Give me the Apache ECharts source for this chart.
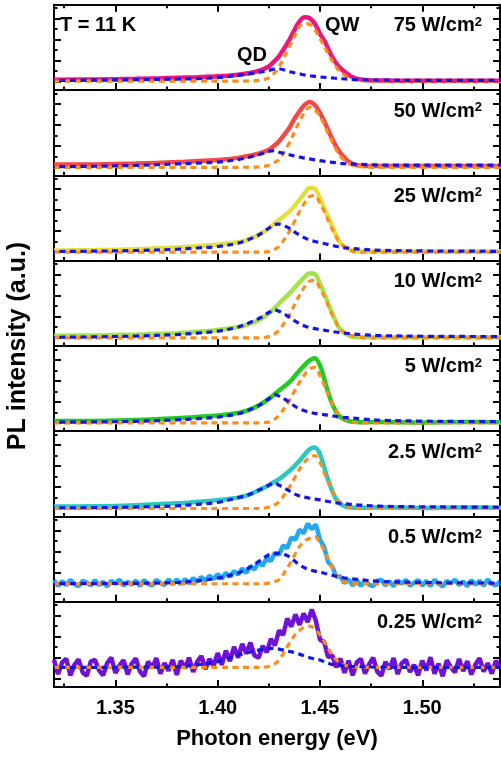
<!DOCTYPE html>
<html>
<head>
<meta charset="utf-8">
<title>PL spectra vs excitation power</title>
<script src="https://cdn.jsdelivr.net/npm/echarts@6.0.0/dist/echarts.min.js"></script>
<style>
html, body { margin: 0; padding: 0; background: #fff; }
#chart { width: 501px; height: 760px; }
</style>
</head>
<body>
<div id="chart"></div>
<script>
// photon energy (eV) for the fitted curves and the smooth spectra
var energy = [1.32, 1.34, 1.36, 1.38, 1.39, 1.40, 1.41, 1.415, 1.42, 1.425,
    1.4275, 1.43, 1.435, 1.4375, 1.44, 1.4425, 1.445, 1.4475, 1.45, 1.4525,
    1.455, 1.4575, 1.46, 1.465, 1.47, 1.48, 1.50, 1.52, 1.54];

// finer energy grid for the two noisy low-power spectra
var energyFine = [
    1.320, 1.322, 1.324, 1.326, 1.328, 1.330, 1.332, 1.334, 1.336, 1.338,
    1.340, 1.342, 1.344, 1.346, 1.348, 1.350, 1.352, 1.354, 1.356, 1.358,
    1.360, 1.362, 1.364, 1.366, 1.368, 1.370, 1.372, 1.374, 1.376, 1.378,
    1.380, 1.382, 1.384, 1.386, 1.388, 1.390, 1.392, 1.394, 1.396, 1.398,
    1.400, 1.402, 1.404, 1.406, 1.408, 1.410, 1.412, 1.414, 1.416, 1.418,
    1.420, 1.422, 1.424, 1.426, 1.428, 1.430, 1.432, 1.434, 1.436, 1.438,
    1.440, 1.442, 1.444, 1.446, 1.448, 1.450, 1.452, 1.454, 1.456, 1.458,
    1.460, 1.462, 1.464, 1.466, 1.468, 1.470, 1.472, 1.474, 1.476, 1.478,
    1.480, 1.482, 1.484, 1.486, 1.488, 1.490, 1.492, 1.494, 1.496, 1.498,
    1.500, 1.502, 1.504, 1.506, 1.508, 1.510, 1.512, 1.514, 1.516, 1.518,
    1.520, 1.522, 1.524, 1.526, 1.528, 1.530, 1.532, 1.534, 1.536, 1.538];

var powers = ['75', '50', '25', '10', '5', '2.5', '0.5', '0.25'];

var xMajor = [1.35, 1.40, 1.45, 1.50];
var xMinor = [1.325, 1.375, 1.425, 1.475, 1.525];
var yMajor = [0, 1, 2, 3];
var yMinor = [0.5, 1.5, 2.5, 3.5];

// measured PL, QW fit and QD fit per power (W/cm2)
var pl75 = [.09, .10, .13, .18, .21, .25, .33, .40, .51, .72, .95, 1.20, 1.98, 2.45, 2.87, 3.06, 3.02, 2.75, 2.28, 1.88, 1.36, .93, .64, .26, .10, .05, .04, .04, .04];
var qw75 = [.02, .02, .02, .02, .02, .02, .02, .03, .06, .17, .38, .70, 1.65, 2.15, 2.62, 2.76, 2.72, 2.47, 2.05, 1.60, 1.15, .75, .45, .14, .05, .03, .02, .02, .02];
var qd75 = [.05, .07, .09, .12, .14, .19, .30, .36, .44, .53, .59, .60, .48, .42, .37, .32, .28, .25, .22, .20, .18, .16, .14, .11, .09, .07, .06, .06, .06];

var pl50 = [.11, .12, .16, .23, .28, .33, .43, .52, .63, .82, 1.00, 1.22, 1.85, 2.28, 2.65, 2.95, 3.09, 2.95, 2.57, 2.08, 1.54, 1.05, .66, .19, .06, .04, .04, .04, .04];
var qw50 = [-.02, -.02, -.02, -.02, -.02, -.02, -.02, -.01, .00, .08, .20, .35, 1.14, 1.65, 2.17, 2.60, 2.84, 2.72, 2.41, 1.92, 1.38, .90, .50, .11, .01, -.02, -.02, -.02, -.02];
var qd50 = [.01, .03, .07, .14, .18, .23, .35, .45, .58, .74, .77, .70, .58, .52, .47, .42, .38, .34, .30, .26, .23, .20, .17, .14, .12, .09, .08, .08, .08];

var pl25 = [.08, .10, .14, .22, .28, .35, .47, .60, .82, 1.14, 1.34, 1.54, 1.93, 2.20, 2.50, 2.82, 3.06, 3.02, 2.57, 2.00, 1.46, .90, .43, .11, .03, .03, .03, .03, .03];
var qw25 = [.00, .00, .00, .00, .00, .00, .00, .00, .00, .03, .12, .27, .98, 1.45, 1.93, 2.35, 2.65, 2.70, 2.33, 1.85, 1.30, .80, .43, .08, .00, .00, .00, .00, .00];
var qd25 = [.03, .05, .08, .14, .20, .27, .43, .60, .82, 1.14, 1.32, 1.34, 1.14, .97, .82, .68, .58, .51, .46, .40, .35, .29, .23, .18, .14, .09, .06, .05, .04];

var pl10 = [.08, .10, .14, .20, .27, .36, .50, .63, .82, 1.14, 1.37, 1.62, 2.09, 2.36, 2.63, 2.88, 3.06, 3.02, 2.57, 2.00, 1.38, .82, .38, .06, .01, .01, .01, .01, .01];
var qw10 = [-.02, -.02, -.02, -.02, -.02, -.02, -.02, -.02, -.02, .04, .15, .35, 1.06, 1.55, 2.01, 2.42, 2.68, 2.72, 2.33, 1.88, 1.30, .80, .38, .11, .00, -.02, -.02, -.02, -.02];
var qd10 = [.01, .03, .07, .14, .21, .30, .50, .68, .90, 1.19, 1.32, 1.25, .98, .80, .66, .55, .47, .42, .38, .34, .30, .26, .23, .18, .14, .09, .06, .05, .04];

var pl5 = [.08, .09, .13, .22, .28, .35, .47, .60, .82, 1.14, 1.34, 1.54, 1.93, 2.20, 2.49, 2.75, 2.97, 3.07, 2.73, 1.95, 1.14, .60, .27, .06, .03, .04, .02, .04, .03];
var qw5 = [.00, .00, .00, .00, .00, .00, .00, .00, .00, .03, .15, .35, 1.06, 1.50, 1.93, 2.30, 2.57, 2.64, 2.25, 1.70, 1.14, .62, .33, .06, .00, .00, .00, .00, .00];
var qd5 = [.03, .04, .07, .14, .20, .27, .43, .60, .82, 1.14, 1.35, 1.27, .98, .80, .66, .57, .50, .45, .41, .38, .35, .31, .27, .23, .19, .12, .08, .06, .05];

var pl2p5 = [.08, .09, .14, .23, .30, .38, .50, .63, .85, 1.09, 1.24, 1.38, 1.77, 2.00, 2.25, 2.55, 2.81, 2.88, 2.57, 1.80, 1.06, .50, .19, .03, .02, .04, .01, .03, .02];
var qw2p5 = [-.02, -.02, -.02, -.02, -.02, -.02, -.02, -.02, -.02, .04, .14, .30, .98, 1.42, 1.85, 2.20, 2.41, 2.50, 2.17, 1.60, 1.06, .55, .27, .03, -.02, -.02, -.02, -.02, -.02];
var qd2p5 = [.01, .02, .05, .11, .18, .27, .50, .63, .85, 1.09, 1.20, 1.09, .82, .68, .58, .52, .47, .43, .39, .34, .30, .26, .22, .18, .14, .09, .06, .05, .04];

var pl0p5 = [
    .62, .36, .58, .40, .64, .45, .34, .60, .52, .38,
    .63, .40, .56, .33, .60, .47, .65, .37, .55, .42,
    .61, .36, .63, .45, .38, .64, .50, .40, .66, .44,
    .66, .44, .68, .48, .72, .56, .78, .60, .84, .68,
    .92, .70, .98, .80, 1.06, .90, 1.18, .98, 1.30, 1.14,
    1.50, 1.32, 1.68, 1.54, 1.94, 1.84, 2.28, 2.16, 2.66, 2.56,
    3.04, 2.86, 3.32, 3.06, 3.28, 2.56, 2.22, 1.50, 1.28, .80,
    .80, .50, .66, .38, .62, .36, .60, .42, .34, .60,
    .64, .38, .58, .34, .62, .46, .65, .37, .50, .63,
    .38, .60, .35, .64, .46, .33, .60, .48, .65, .40,
    .57, .34, .62, .42, .60, .37, .66, .45, .38, .58];
var qw0p5 = [.46, .46, .46, .46, .46, .46, .46, .46, .46, .49, .56, .65, 1.36, 1.80, 2.23, 2.50, 2.63, 2.70, 2.39, 1.95, 1.44, .98, .65, .49, .46, .46, .46, .46, .46];
var qd0p5 = [.47, .47, .48, .52, .60, .73, .97, 1.20, 1.52, 1.84, 1.88, 1.92, 1.75, 1.55, 1.36, 1.22, 1.12, 1.06, 1.01, .95, .89, .83, .77, .70, .65, .57, .52, .50, .49];

var pl0p25 = [
    .90, .22, .78, .95, .15, .66, .92, .30, .14, .82,
    .90, .40, .16, .74, 1.00, .28, .62, .88, .20, .72,
    .96, .34, .12, .82, .50, .98, .24, .74, .38, .90,
    .18, .86, .50, 1.00, .32, .80, 1.08, .46, .94, .62,
    1.22, .66, 1.34, .84, 1.52, 1.00, 1.66, 1.20, 1.72, 1.10,
    1.00, 1.56, 1.26, 1.90, 1.58, 2.30, 2.08, 2.86, 2.48, 3.06,
    2.56, 3.10, 2.70, 3.30, 2.76, 1.86, 1.76, 1.02, 1.12, .54,
    .96, .28, .86, .16, .78, .94, .24, .68, 1.00, .34,
    .14, .80, .46, .98, .22, .74, .90, .32, .66, .16,
    .86, .40, 1.02, .24, .72, .12, .88, .54, .30, .94,
    .36, .84, .20, .68, .98, .34, .74, .24, .86, .48];
var qw0p25 = [.54, .54, .54, .54, .54, .54, .54, .54, .54, .58, .68, .89, 1.68, 2.05, 2.31, 2.45, 2.50, 2.38, 2.08, 1.70, 1.28, .95, .73, .58, .54, .54, .54, .54, .54];
var qd0p25 = [.54, .54, .55, .57, .66, .81, 1.12, 1.25, 1.36, 1.43, 1.44, 1.41, 1.30, 1.24, 1.17, 1.08, 1.00, .94, .89, .79, .70, .65, .62, .59, .57, .55, .54, .54, .54];

var plData = [pl75, pl50, pl25, pl10, pl5, pl2p5, pl0p5, pl0p25];
var qwData = [qw75, qw50, qw25, qw10, qw5, qw2p5, qw0p5, qw0p25];
var qdData = [qd75, qd50, qd25, qd10, qd5, qd2p5, qd0p5, qd0p25];
var noisy = [false, false, false, false, false, false, true, true];

var lineColors = ['#e8187c', '#f24848', '#e4df3c', '#a6e24c', '#22cc22', '#2cc8c0', '#20a8f0', '#7012d6'];
var qwColor = '#ff8c1a';
var qdColor = '#1414e8';
var FONT = '"Liberation Sans", Arial, Helvetica, sans-serif';

var LEFT = 54, WIDTH = 446, TOP = 4.7, PH = 85.3;

function pairs(xs, ys) {
    return xs.map(function (x, k) { return [x, ys[k]]; });
}

function xAxisFor(i, pos, ticks, len, showLine, showLabel) {
    return {
        type: 'value', gridIndex: i, position: pos, min: 1.32, max: 1.538,
        axisLine: { show: showLine, onZero: false, lineStyle: { color: '#000', width: 2 } },
        axisTick: { show: true, inside: true, length: len, customValues: ticks, lineStyle: { color: '#000', width: 2 } },
        axisLabel: {
            show: showLabel, customValues: ticks, margin: 11, color: '#000',
            fontSize: 20, fontWeight: 'bold', fontFamily: FONT,
            formatter: function (v) { return v.toFixed(2); }
        },
        splitLine: { show: false }
    };
}

function yAxisFor(i, pos, ticks, len, showLine) {
    return {
        type: 'value', gridIndex: i, position: pos, min: -0.4, max: 3.662,
        axisLine: { show: showLine, onZero: false, lineStyle: { color: '#000', width: 2 } },
        axisTick: { show: true, inside: true, length: len, customValues: ticks, lineStyle: { color: '#000', width: 2 } },
        axisLabel: { show: false },
        splitLine: { show: false }
    };
}

function label(x, y, text, align) {
    return {
        type: 'text', x: x, y: y,
        style: { text: text, align: align, verticalAlign: 'middle', fill: '#000', font: 'bold 20px ' + FONT }
    };
}

var grids = [], xAxes = [], yAxes = [], series = [], texts = [];

powers.forEach(function (p, i) {
    var top = TOP + PH * i;
    grids.push({ left: LEFT, top: top, width: WIDTH, height: PH, outerBoundsMode: 'none' });

    var last = i === powers.length - 1;
    var xm = xAxisFor(i, 'bottom', xMajor, 7, true, last);
    if (last) {
        xm.name = 'Photon energy (eV)';
        xm.nameLocation = 'middle';
        xm.nameGap = 41;
        xm.nameTextStyle = { color: '#000', fontSize: 22, fontWeight: 'bold', fontFamily: FONT };
    }
    xAxes.push(xm);
    xAxes.push(xAxisFor(i, 'bottom', xMinor, 3.5, false, false));

    yAxes.push(yAxisFor(i, 'left', yMajor, 7, true));
    yAxes.push(yAxisFor(i, 'left', yMinor, 3.5, false));
    yAxes.push(yAxisFor(i, 'right', yMajor, 7, true));
    yAxes.push(yAxisFor(i, 'right', yMinor, 3.5, false));

    series.push({
        type: 'line', xAxisIndex: 2 * i, yAxisIndex: 4 * i, z: 2,
        data: pairs(noisy[i] ? energyFine : energy, plData[i]),
        symbol: 'none', smooth: noisy[i] ? false : 0.35, silent: true,
        lineStyle: { color: lineColors[i], width: 4.5 }
    });
    series.push({
        type: 'line', xAxisIndex: 2 * i, yAxisIndex: 4 * i, z: 3,
        data: pairs(energy, qwData[i]),
        symbol: 'none', smooth: 0.35, silent: true,
        lineStyle: { color: qwColor, width: 3.2, type: [6, 4.5] }
    });
    series.push({
        type: 'line', xAxisIndex: 2 * i, yAxisIndex: 4 * i, z: 4,
        data: pairs(energy, qdData[i]),
        symbol: 'none', smooth: 0.35, silent: true,
        lineStyle: { color: qdColor, width: 3.2, type: [6, 4.5], dashOffset: 5 }
    });

    texts.push({
        type: 'text', x: 482, y: top + 21,
        style: {
            text: '{a|' + p + ' W/cm}{s|2}', align: 'right', verticalAlign: 'middle',
            rich: {
                a: { fontSize: 20, fontWeight: 'bold', fontFamily: FONT, fill: '#000', lineHeight: 20 },
                s: { fontSize: 13, fontWeight: 'bold', fontFamily: FONT, fill: '#000', verticalAlign: 'top', lineHeight: 13 }
            }
        }
    });
});

// mirrored ticks on the top frame
xAxes.push(xAxisFor(0, 'top', xMajor, 7, true, false));
xAxes.push(xAxisFor(0, 'top', xMinor, 3.5, false, false));

texts.push(
    label(60, 25, 'T = 11 K', 'left'),
    label(325, 25.5, 'QW', 'left'),
    label(237, 55, 'QD', 'left'),
    {
        type: 'text', x: 18, y: 346, rotation: Math.PI / 2,
        style: { text: 'PL intensity (a.u.)', align: 'center', verticalAlign: 'middle', fill: '#000', font: 'bold 25px ' + FONT }
    }
);

var myChart = echarts.init(document.getElementById('chart'), null, { renderer: 'canvas' });
var option = {
    animation: false,
    backgroundColor: '#fff',
    grid: grids,
    xAxis: xAxes,
    yAxis: yAxes,
    series: series,
    graphic: texts
};
myChart.setOption(option);
</script>
</body>
</html>
